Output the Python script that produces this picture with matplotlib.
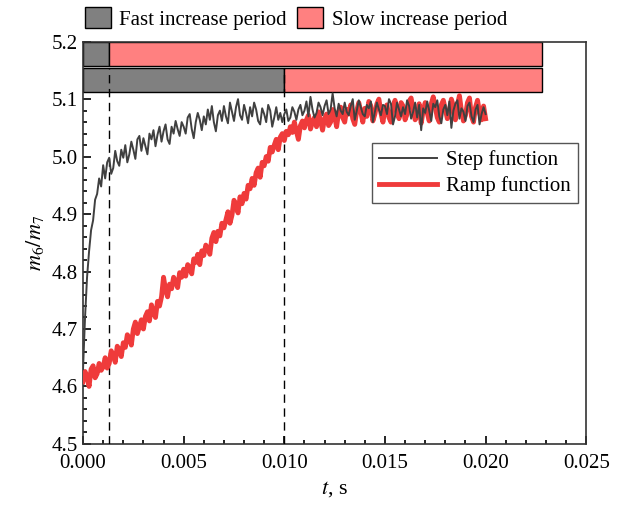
import numpy as np
import matplotlib.pyplot as plt
from matplotlib.ticker import MultipleLocator, FormatStrFormatter

plt.rcParams['font.family'] = ['Liberation Serif', 'DejaVu Serif']
plt.rcParams['mathtext.fontset'] = 'stix'
plt.rcParams['font.size'] = 15

# time grid, 0.1 ms sampling
t = np.round(np.arange(201) * 0.0001, 4)

step_m = [
    4.630, 4.720, 4.790, 4.835, 4.872, 4.889, 4.925, 4.935, 4.962, 4.948,
    4.985, 4.962, 4.990, 4.998, 4.970, 4.980, 5.010, 4.992, 4.984, 5.012,
    4.998, 5.020, 4.990, 5.004, 5.026, 5.012, 4.996, 5.030, 5.036, 5.010,
    5.032, 5.018, 5.004, 5.040, 5.030, 5.046, 5.018, 5.038, 5.052, 5.026,
    5.044, 5.056, 5.030, 5.022, 5.052, 5.040, 5.062, 5.048, 5.036, 5.060,
    5.052, 5.040, 5.068, 5.074, 5.048, 5.032, 5.060, 5.076, 5.064, 5.046,
    5.070, 5.056, 5.082, 5.064, 5.088, 5.060, 5.044, 5.072, 5.080, 5.062,
    5.088, 5.070, 5.058, 5.094, 5.078, 5.062, 5.086, 5.100, 5.072, 5.064,
    5.090, 5.076, 5.058, 5.086, 5.070, 5.094, 5.082, 5.062, 5.056, 5.084,
    5.074, 5.060, 5.090, 5.080, 5.052, 5.068, 5.086, 5.064, 5.076, 5.060,
    5.074, 5.082, 5.062, 5.068, 5.086, 5.078, 5.064, 5.082, 5.090, 5.072,
    5.080, 5.096, 5.070, 5.104, 5.082, 5.068, 5.076, 5.094, 5.086, 5.072,
    5.088, 5.098, 5.074, 5.082, 5.110, 5.084, 5.070, 5.092, 5.080, 5.074,
    5.094, 5.078, 5.072, 5.088, 5.100, 5.064, 5.080, 5.098, 5.086, 5.074,
    5.070, 5.090, 5.084, 5.096, 5.060, 5.078, 5.094, 5.082, 5.072, 5.090,
    5.088, 5.074, 5.100, 5.092, 5.056, 5.070, 5.094, 5.082, 5.070, 5.086,
    5.074, 5.098, 5.088, 5.066, 5.078, 5.094, 5.068, 5.090, 5.046, 5.084,
    5.076, 5.096, 5.080, 5.062, 5.092, 5.086, 5.098, 5.070, 5.058, 5.082,
    5.090, 5.072, 5.096, 5.050, 5.080, 5.092, 5.098, 5.066, 5.084, 5.078,
    5.062, 5.088, 5.094, 5.070, 5.060, 5.082, 5.090, 5.056, 5.074, 5.086,
    5.074,
]

ramp_m = [
    4.608, 4.626, 4.618, 4.600, 4.630, 4.636, 4.615, 4.622, 4.640, 4.628,
    4.634, 4.650, 4.632, 4.640, 4.662, 4.655, 4.642, 4.670, 4.664, 4.652,
    4.676, 4.668, 4.690, 4.684, 4.672, 4.700, 4.712, 4.692, 4.704, 4.716,
    4.700, 4.722, 4.730, 4.714, 4.742, 4.728, 4.720, 4.748, 4.740, 4.756,
    4.790, 4.768, 4.756, 4.778, 4.770, 4.790, 4.782, 4.772, 4.798, 4.790,
    4.804, 4.792, 4.812, 4.806, 4.796, 4.822, 4.816, 4.830, 4.812, 4.836,
    4.828, 4.846, 4.840, 4.830, 4.858, 4.868, 4.852, 4.870, 4.862, 4.884,
    4.876, 4.890, 4.904, 4.884, 4.898, 4.924, 4.916, 4.902, 4.930, 4.918,
    4.936, 4.926, 4.950, 4.944, 4.962, 4.950, 4.972, 4.980, 4.964, 4.990,
    4.984, 5.000, 4.992, 5.016, 5.008, 5.020, 5.030, 5.012, 5.034, 5.040,
    5.028, 5.044, 5.038, 5.052, 5.042, 5.060, 5.044, 5.030, 5.054, 5.062,
    5.050, 5.064, 5.072, 5.048, 5.060, 5.068, 5.052, 5.078, 5.062, 5.046,
    5.066, 5.074, 5.054, 5.060, 5.082, 5.070, 5.052, 5.078, 5.086, 5.068,
    5.060, 5.082, 5.074, 5.090, 5.066, 5.056, 5.080, 5.094, 5.078, 5.060,
    5.084, 5.070, 5.096, 5.088, 5.062, 5.074, 5.092, 5.100, 5.076, 5.060,
    5.082, 5.090, 5.068, 5.060, 5.084, 5.098, 5.080, 5.066, 5.094, 5.088,
    5.064, 5.074, 5.096, 5.102, 5.080, 5.064, 5.070, 5.092, 5.058, 5.080,
    5.094, 5.076, 5.062, 5.092, 5.104, 5.086, 5.068, 5.060, 5.090, 5.098,
    5.082, 5.066, 5.074, 5.100, 5.088, 5.064, 5.090, 5.106, 5.080, 5.062,
    5.072, 5.094, 5.102, 5.070, 5.060, 5.086, 5.098, 5.076, 5.064, 5.088,
    5.066,
]

# period bars: end of fast increase for (step, ramp), and end of the bars
fast_end = [0.0013, 0.010]
bar_end = 0.0228
bar_rows = [5.179, 5.133]
bar_height = 0.042

fig = plt.figure(figsize=(6.29, 5.12), dpi=100)
ax = fig.add_axes([0.132, 0.133, 0.8, 0.7856])

h_fast = ax.barh(bar_rows, fast_end, height=bar_height, left=0,
                 color='#808080', edgecolor='black', linewidth=1,
                 label='Fast increase period', zorder=2)
h_slow = ax.barh(bar_rows, [bar_end - f for f in fast_end], height=bar_height,
                 left=fast_end, color='#ff8080', edgecolor='black',
                 linewidth=1, label='Slow increase period', zorder=2)

for f in fast_end:
    ax.plot([f, f], [4.5, bar_rows[1] + bar_height / 2], color='black',
            lw=1, dashes=(6, 4), zorder=3)

l_step, = ax.plot(t, step_m, color='#404040', lw=1.4, label='Step function',
                  zorder=4)
l_ramp, = ax.plot(t, ramp_m, color='#ef3b3b', lw=3.5, label='Ramp function',
                  zorder=3.5)

ax.set_xlim(0, 0.025)
ax.set_ylim(4.5, 5.2)
ax.xaxis.set_major_locator(MultipleLocator(0.005))
ax.xaxis.set_minor_locator(MultipleLocator(0.001))
ax.yaxis.set_major_locator(MultipleLocator(0.1))
ax.yaxis.set_minor_locator(MultipleLocator(0.02))
ax.xaxis.set_major_formatter(FormatStrFormatter('%.3f'))
ax.yaxis.set_major_formatter(FormatStrFormatter('%.1f'))
ax.tick_params(which='both', direction='in', top=False, right=False,
               width=1.2, labelsize=15)
ax.tick_params(axis='x', pad=7)
ax.tick_params(axis='y', pad=4)
ax.tick_params(which='major', length=6)
ax.tick_params(which='minor', length=3)
for s in ax.spines.values():
    s.set_linewidth(1.2)
    s.set_color('#333333')

ax.set_xlabel('$t$, s', fontsize=16, labelpad=5)
ax.set_ylabel('$m_6/m_7$', fontsize=16, labelpad=4)

leg = ax.legend(handles=[l_step, l_ramp], loc='upper left',
                bbox_to_anchor=(0.553, 0.775), frameon=True, fancybox=False,
                edgecolor='#555555', framealpha=1, handlelength=2.8,
                handletextpad=0.4, borderpad=0.35, labelspacing=0.3,
                fontsize=15)
leg.get_frame().set_linewidth(1)

fig.legend(handles=[h_fast, h_slow], loc='upper left',
           bbox_to_anchor=(0.105, 1.022), ncol=2, frameon=False,
           handlelength=1.25, handleheight=1.15, handletextpad=0.4,
           columnspacing=0.5, fontsize=15)

fig.savefig('out.png', dpi=100)
